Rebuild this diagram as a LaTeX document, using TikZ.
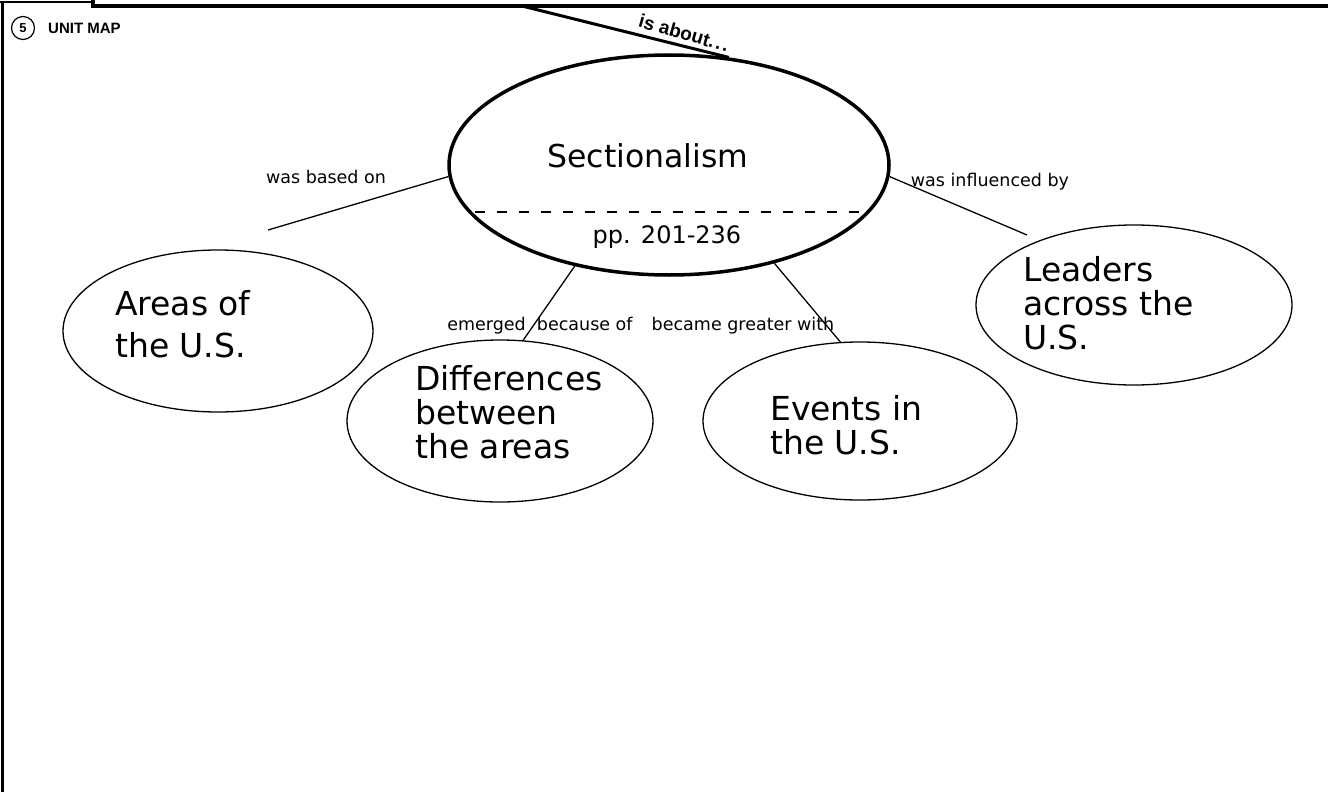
\documentclass[tikz,border=0pt]{standalone}
\usepackage{fontspec}
\setmainfont{DejaVu Sans}
\newfontfamily\arialfont{Liberation Sans}
\usetikzlibrary{shapes.geometric}

\begin{document}
\begin{tikzpicture}[x=1pt, y=-1pt, bubble/.style = {draw, ellipse, line width=1.3pt, inner sep=0pt}, bubbletext/.style = {align=left, anchor=west, inner sep=0pt, font=\fontsize{33}{34}\selectfont}, linklabel/.style = {inner sep=0pt, font=\fontsize{17.5}{20}\selectfont}]
\useasboundingbox (0,0) rectangle (1328,792);

% frame
\draw[line width=1.2pt] (0,2) -- (93,2);
\draw[line width=4pt] (93,0) -- (93,6) -- (1328,6);
\draw[line width=3pt] (2,2) -- (2,792);
\node[circle, draw, line width=1.2pt, minimum size=23pt, inner sep=0pt, font=\arialfont\bfseries\fontsize{13}{13}\selectfont] (unitno) at (23,28) {5};
\node[anchor=west, inner sep=0pt, font=\arialfont\bfseries\fontsize{15}{15}\selectfont] (unitmap) at (48,28) {UNIT MAP};

% bubbles
\node[bubble, line width=3.5pt, minimum width=440pt, minimum height=220pt] (main) at (669,165) {};
\node[bubble, minimum width=310pt, minimum height=162pt] (areas) at (218,331) {};
\node[bubble, minimum width=306pt, minimum height=162pt] (diffs) at (500,421) {};
\node[bubble, minimum width=314pt, minimum height=158pt] (events) at (860,421) {};
\node[bubble, minimum width=316pt, minimum height=160pt] (leaders) at (1134,305) {};

\node[inner sep=0pt, font=\fontsize{31.5}{32}\selectfont] (main_t) at (648,156) {Sectionalism};
\node[inner sep=0pt, font=\fontsize{24}{24}\selectfont] (main_p) at (667,237) {pp. 201-236};
\draw[line width=1.3pt, dash pattern=on 10pt off 12pt] (475,212) coordinate (dash_l) -- (865,212) coordinate (dash_r);
\node[bubbletext, font=\fontsize{33}{42}\selectfont] (areas_t) at (115,324) {Areas of\\the U.S.};
\node[bubbletext] (diffs_t) at (415,412) {Differences\\between\\the areas};
\node[bubbletext] (events_t) at (770,425) {Events in\\the U.S.};
\node[bubbletext] (leaders_t) at (1023,303) {Leaders\\across the\\U.S.};

\coordinate (top_end) at (522,6);
\coordinate (areas_end) at (268,230);
\coordinate (leaders_end) at (1027,235);

\begin{scope}[line width=1.3pt]
\path (main.183) edge (areas_end);
\path (main.227) edge (diffs.74);
\path (main.317) edge (events.104);
\path (main.357) edge (leaders_end);
\path[line width=3pt] (top_end) edge (main.61);
\end{scope}

\node[linklabel] (based) at (326,177) {was based on};
\node[linklabel] (emerged) at (540,326) {emerged\ \ because of};
\node[linklabel] (greater) at (743,326) {became greater with};
\node[linklabel] (influenced) at (990,182) {was influenced by};
\node[inner sep=0pt, rotate=-16, font=\arialfont\bfseries\fontsize{19}{19}\selectfont] (about) at (684,33) {is about.\kern2pt.\kern2pt.};
\end{tikzpicture}
\end{document}
